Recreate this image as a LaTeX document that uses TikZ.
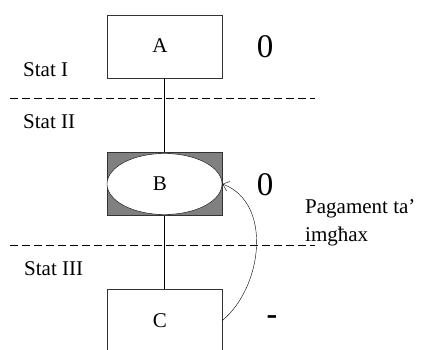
\documentclass[tikz,border=0pt]{standalone}
\usepackage{fontspec}
\setmainfont{Liberation Serif}
\usetikzlibrary{arrows.meta,shapes.geometric}

\tikzset{
  stage/.style={draw,thick,black!80,minimum width=115pt,minimum height=63pt,inner sep=0pt},
  statlabel/.style={anchor=base west,inner sep=0pt},
  border/.style={dash pattern=on 8pt off 4pt,thin},
  zero/.style={inner sep=0pt,font=\fontsize{33}{36}\selectfont}
}

\begin{document}
\begin{tikzpicture}[x=1pt,y=1pt,font=\fontsize{21}{25}\selectfont]
  \useasboundingbox (0,0) rectangle (422,-349);
  \clip (0,0) rectangle (422,-349);

  % the three stages
  \node[stage] (A) at (164.5,-46.5) {};
  \node at (160,-46) {A};
  \node[stage,fill=black!50] (B) at (164.5,-184) {};
  \node[draw,thin,fill=white,ellipse,minimum width=115pt,minimum height=61pt,inner sep=0pt] (Bin) at (B.center) {};
  \node at (160,-184) {B};
  \node[stage] (C) at (164.5,-320.5) {};
  \node at (160,-321) {C};

  \draw (A.south) -- (B.north);
  \draw (B.south) -- (C.north);

  % borders between the states
  \draw[border] (10,-98) -- (315,-98);
  \draw[border] (10,-245) -- (315,-245);

  \node[statlabel] (s1) at (23,-76) {Stat I};
  \node[statlabel] (s2) at (23,-128) {Stat II};
  \node[statlabel] (s3) at (24,-275) {Stat III};

  \node[zero] (zA) at (265,-46.5) {0};
  \node[zero] (zB) at (265,-185) {0};
  \node[inner sep=0pt,font=\fontsize{32}{34}\selectfont\bfseries] (m) at (272,-320) {-};

  % payment back to B
  \draw[-{Straight Barb[length=6pt,width=10pt]},thin] (C.east) to[out=40,in=-20] (B.east);
  \node[anchor=base west,inner sep=0pt] (pay) at (305,-213) {Pagament ta’};
  \node[anchor=base west,inner sep=0pt] (pay2) at (305,-241) {imgħax};
\end{tikzpicture}
\end{document}
